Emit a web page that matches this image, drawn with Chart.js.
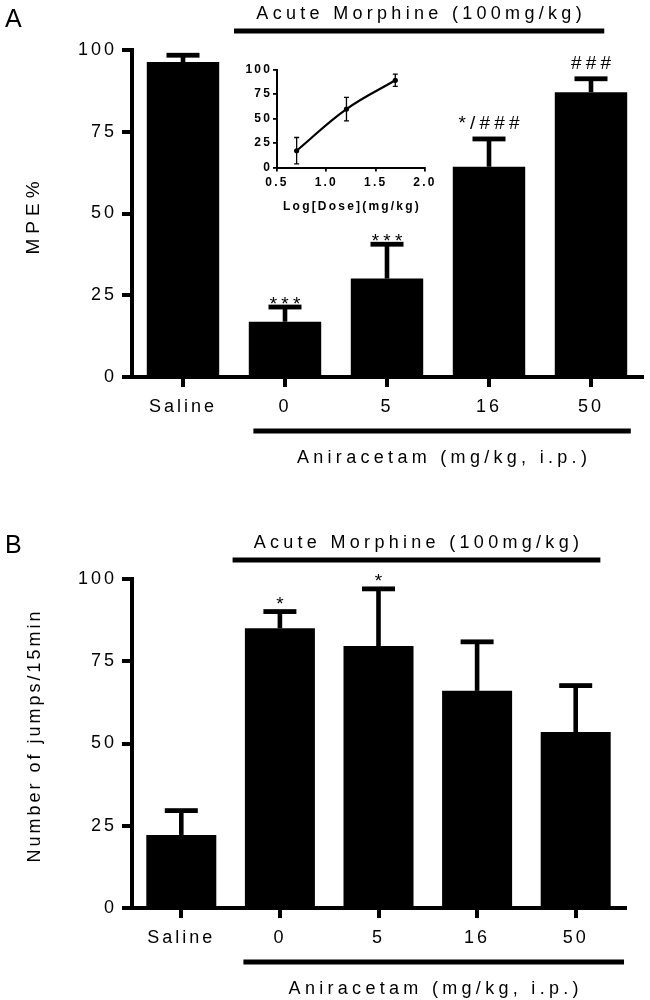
<!DOCTYPE html>
<html><head><meta charset="utf-8">
<script src="https://cdn.jsdelivr.net/npm/chart.js@4.4.0/dist/chart.umd.min.js"></script>
<style>
html,body{margin:0;padding:0;background:#fff;}
#wrap{position:relative;width:650px;height:1000px;background:#fff;}
canvas{position:absolute;display:block;}
</style></head><body>
<div id="wrap">
<canvas id="cA" width="650" height="500" style="left:0;top:0;width:650px;height:500px"></canvas>
<canvas id="cB" width="650" height="500" style="left:0;top:500px;width:650px;height:500px"></canvas>
<canvas id="cIn" width="230" height="170" style="left:220px;top:50px;width:230px;height:170px"></canvas>
</div>
<script>
// ---- data ----
const categories = ['Saline', '0', '5', '16', '50'];
const yTicks = [0, 25, 50, 75, 100];
const mpeMean = [96.3, 16.9, 30.1, 64.3, 87.1];
const mpeErr = [2.1, 4.5, 10.5, 8.5, 4.1];
const mpeSig = ['', '***', '***', '*/###', '###'];
const jumpsMean = [22.2, 85.0, 79.6, 66.0, 53.5];
const jumpsErr = [7.4, 5.1, 17.4, 14.9, 14.1];
const jumpsSig = ['', '*', '*', '', ''];
const insetLogDose = [0.699, 1.204, 1.699];
const insetMean = [17.1, 59.6, 89.0];
const insetErr = [13.5, 12.0, 6.3];
const insetXTicks = [0.5, 1.0, 1.5, 2.0];
const topLabel = 'Acute Morphine (100mg/kg)';
const bottomLabel = 'Aniracetam (mg/kg, i.p.)';

const FAM = '"Liberation Sans", Arial, Helvetica, sans-serif';
Chart.defaults.font.family = FAM;
Chart.defaults.color = '#000';

function makeDeco(cfg) {
  return {
    id: 'deco_' + cfg.name,
    beforeDraw(chart) { chart.ctx.letterSpacing = cfg.tickSpacing; },
    afterDatasetsDraw(chart) {
      const ctx = chart.ctx;
      const meta = chart.getDatasetMeta(0);
      const ys = chart.scales.y;
      ctx.save();
      ctx.fillStyle = '#000';
      ctx.strokeStyle = '#000';
      meta.data.forEach((el, i) => {
        const m = cfg.means[i], e = cfg.errs[i];
        const px = el.x, py = ys.getPixelForValue(m), pe = ys.getPixelForValue(m + e);
        if (cfg.kind === 'bar') {
          ctx.fillRect(px - 2.3, pe, 4.6, py - pe);
          ctx.fillRect(px - 16.5, pe - 2.4, 33, 4.8);
          const s = cfg.sigs[i];
          if (s) {
            ctx.font = '19px ' + FAM;
            ctx.letterSpacing = '4.2px';
            ctx.textAlign = 'center';
            ctx.textBaseline = 'alphabetic';
            const capTop = pe - 2.4;
            const off = s.indexOf('#') >= 0 ? cfg.hashOff : cfg.starOff;
            ctx.fillText(s, px + 2.1, capTop + off);
          }
        } else {
          const pl = ys.getPixelForValue(m - e);
          ctx.lineWidth = 1.3;
          ctx.beginPath();
          ctx.moveTo(px, pe); ctx.lineTo(px, pl);
          ctx.moveTo(px - 2.5, pe); ctx.lineTo(px + 2.5, pe);
          ctx.moveTo(px - 2.5, pl); ctx.lineTo(px + 2.5, pl);
          ctx.stroke();
        }
      });
      ctx.restore();
    },
    afterDraw(chart) {
      const ctx = chart.ctx, a = chart.chartArea, xs = chart.scales.x;
      ctx.save();
      ctx.fillStyle = '#000';
      if (cfg.kind === 'bar') {
        const c1 = xs.getPixelForValue(1), c4 = xs.getPixelForValue(4);
        const cw = xs.getPixelForValue(1) - xs.getPixelForValue(0);
        // panel letter
        ctx.letterSpacing = '0px';
        ctx.font = '25px ' + FAM;
        ctx.textAlign = 'left'; ctx.textBaseline = 'alphabetic';
        ctx.fillText(cfg.letter, 5, cfg.letterBase);
        // top bracket
        const tl = c1 - cfg.topL * cw, tr = c4 + cfg.topR * cw;
        ctx.fillRect(tl, a.top - 21.5, tr - tl, 5);
        ctx.font = '18px ' + FAM;
        ctx.letterSpacing = '4.3px';
        ctx.textAlign = 'center';
        ctx.fillText(topLabel, (tl + tr) / 2 + 2, a.top - 30.6);
        // bottom bracket
        const bl = c1 - cfg.botL * cw, br = c4 + cfg.botR * cw;
        ctx.fillRect(bl, a.bottom + 51.5, br - bl, 5);
        ctx.fillText(bottomLabel, (bl + br) / 2 + 2, a.bottom + 86.4);
        // y title
        ctx.save();
        ctx.translate(cfg.titleX, (a.top + a.bottom) / 2 + cfg.titleDy);
        ctx.rotate(-Math.PI / 2);
        ctx.font = cfg.titleFont;
        ctx.letterSpacing = cfg.titleSpacing;
        ctx.textAlign = 'center';
        ctx.fillText(cfg.title, 0, 0);
        ctx.restore();
      } else {
        ctx.font = 'bold 12px ' + FAM;
        ctx.letterSpacing = '2.2px';
        ctx.textAlign = 'center';
        ctx.textBaseline = 'alphabetic';
        ctx.fillText('Log[Dose](mg/kg)', (a.left + a.right) / 2 + 1, a.bottom + 42.5);
      }
      ctx.restore();
    }
  };
}

function barChart(id, means, errs, sigs, cfg) {
  return new Chart(document.getElementById(id), {
    type: 'bar',
    data: {
      labels: categories,
      datasets: [{ data: means, backgroundColor: '#000', borderWidth: 0,
                   categoryPercentage: 1.0, barPercentage: 0.71 }]
    },
    options: {
      responsive: false, animation: false, events: [],
      layout: { padding: { top: cfg.padTop, right: cfg.padRight, left: 0, bottom: 0 } },
      plugins: { legend: { display: false }, tooltip: { enabled: false } },
      scales: {
        x: {
          grid: { display: true, drawOnChartArea: false, drawTicks: true, offset: false,
                  tickLength: 10, tickWidth: 4, lineWidth: 4, color: '#000' },
          border: { display: true, width: 4, color: '#000' },
          ticks: { font: { size: 18 }, color: '#000', padding: 9, maxRotation: 0 },
          afterFit: s => { s.height = cfg.xHeight; }
        },
        y: {
          min: 0, max: 100,
          afterBuildTicks: s => { s.ticks = yTicks.map(v => ({ value: v })); },
          grid: { display: true, drawOnChartArea: false, drawTicks: true,
                  tickLength: 10, tickWidth: 4, lineWidth: 4, color: '#000' },
          border: { display: true, width: 4, color: '#000' },
          ticks: { font: { size: 18 }, color: '#000', padding: 5 },
          afterFit: s => { s.width = 132; }
        }
      }
    },
    plugins: [makeDeco(Object.assign({ kind: 'bar', means, errs, sigs }, cfg))]
  });
}

barChart('cA', mpeMean, mpeErr, mpeSig, {
  name: 'A', padTop: 50, padRight: 8, xHeight: 123, tickSpacing: '3px',
  letter: 'A', letterBase: 27,
  topL: 0.5, topR: 0.13, botL: 0.31, botR: 0.39,
  starOff: 5, hashOff: -7.5,
  title: 'MPE%', titleX: 39, titleDy: 2, titleFont: '19px ' + FAM, titleSpacing: '5px'
});

barChart('cB', jumpsMean, jumpsErr, jumpsSig, {
  name: 'B', padTop: 79, padRight: 25, xHeight: 92, tickSpacing: '3px',
  letter: 'B', letterBase: 53,
  topL: 0.48, topR: 0.25, botL: 0.37, botR: 0.49,
  starOff: 1, hashOff: -7.5,
  title: 'Number of jumps/15min', titleX: 40, titleDy: -8, titleFont: '18px ' + FAM, titleSpacing: '3px'
});

new Chart(document.getElementById('cIn'), {
  type: 'line',
  data: {
    datasets: [{
      data: insetLogDose.map((x, i) => ({ x: x, y: insetMean[i] })),
      borderColor: '#000', borderWidth: 2.2, tension: 0.4,
      pointRadius: 2.6, pointBackgroundColor: '#000', pointBorderWidth: 0, fill: false
    }]
  },
  options: {
    responsive: false, animation: false, events: [],
    layout: { padding: { top: 19.5, right: 25, left: 0, bottom: 0 } },
    plugins: { legend: { display: false }, tooltip: { enabled: false } },
    scales: {
      x: {
        type: 'linear', min: 0.5, max: 2.0,
        afterBuildTicks: s => { s.ticks = insetXTicks.map(v => ({ value: v })); },
        grid: { display: true, drawOnChartArea: false, drawTicks: true,
                tickLength: 4, tickWidth: 1.8, lineWidth: 1.8, color: '#000' },
        border: { display: true, width: 2, color: '#000' },
        ticks: { font: { size: 12, weight: 'bold' }, color: '#000', padding: 4, maxRotation: 0,
                 callback: v => Number(v).toFixed(1) },
        afterFit: s => { s.height = 52.5; }
      },
      y: {
        min: 0, max: 100,
        afterBuildTicks: s => { s.ticks = yTicks.map(v => ({ value: v })); },
        grid: { display: true, drawOnChartArea: false, drawTicks: true,
                tickLength: 4, tickWidth: 1.8, lineWidth: 1.8, color: '#000' },
        border: { display: true, width: 2, color: '#000' },
        ticks: { font: { size: 12, weight: 'bold' }, color: '#000', padding: 1 },
        afterFit: s => { s.width = 57; }
      }
    }
  },
  plugins: [makeDeco({ name: 'In', kind: 'line', means: insetMean, errs: insetErr, tickSpacing: '2.2px' })]
});
</script>
</body></html>
